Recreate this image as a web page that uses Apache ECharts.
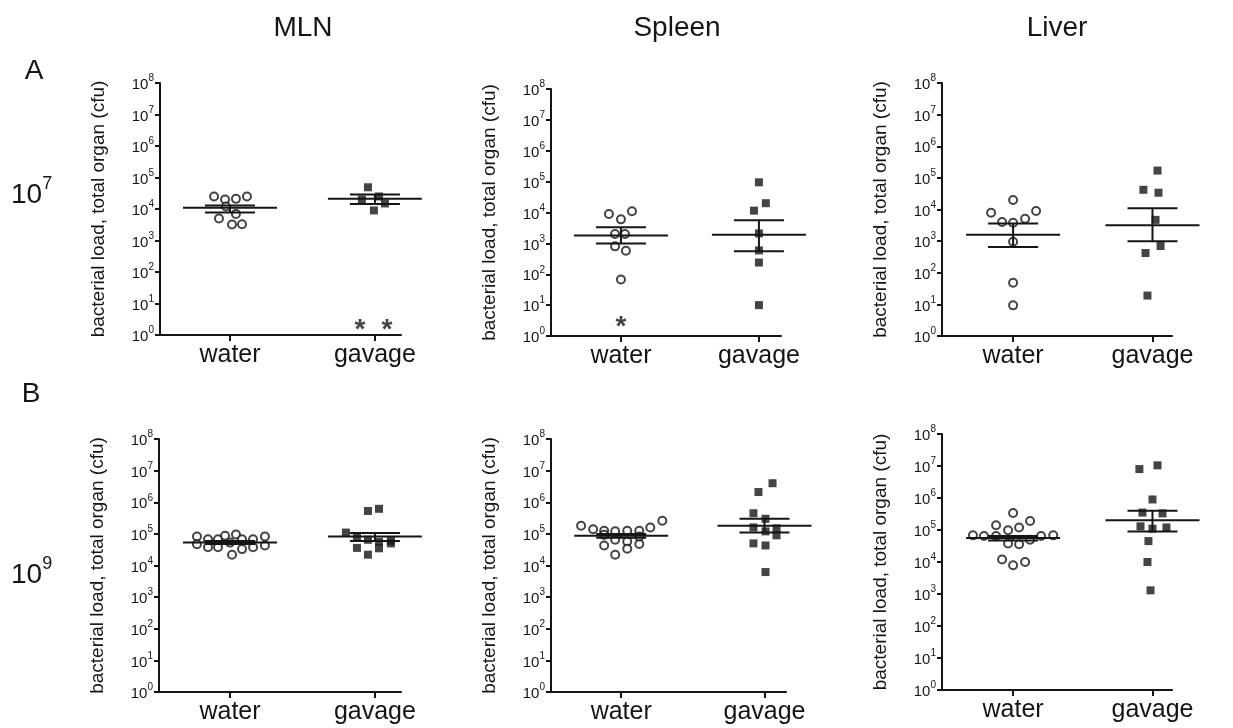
<!DOCTYPE html>
<html>
<head>
<meta charset="utf-8">
<script src="https://cdn.jsdelivr.net/npm/echarts@6/dist/echarts.min.js"></script>
<style>
html,body{margin:0;padding:0;background:#fff;}
#chart{width:1233px;height:728px;}
</style>
</head>
<body>
<div id="chart"></div>
<script>
// ---------- categories / labels ----------
const categories = ['water', 'gavage'];
const organs = ['MLN', 'Spleen', 'Liver'];
const rowLetters = ['A', 'B'];
const doseExponents = ['7', '9'];
const yTickExponents = [0, 1, 2, 3, 4, 5, 6, 7, 8];
const yTitle = 'bacterial load, total organ (cfu)';

// ---------- A: 10^7 dose ----------
// MLN
const mlnA_water   = [25000, 20000, 21000, 25000, 12000, 7000, 5000, 3200, 3300];
const mlnA_waterDx = [-0.11, -0.034, 0.041, 0.117, -0.028, 0.041, -0.076, 0.014, 0.083];
const mlnA_gavage   = [49000, 20000, 25000, 15000, 9000];
const mlnA_gavageDx = [-0.048, -0.09, 0.028, 0.069, -0.007];
const mlnA_mean  = [11000, 21000];
const mlnA_semLo = [7800, 14400];
const mlnA_semHi = [12800, 29000];
const mlnA_stars   = [[2, 2.6], [2, 2.6]];
const mlnA_starsDx = [-0.103, 0.083];
// Spleen
const splA_water   = [9000, 6000, 11000, 2000, 2000, 800, 580, 68];
const splA_waterDx = [-0.087, 0, 0.08, -0.043, 0.029, -0.043, 0.036, 0];
const splA_gavage   = [95000, 20000, 11500, 2100, 590, 240, 10];
const splA_gavageDx = [0, 0.05, -0.036, 0, 0, 0, 0];
const splA_mean  = [1800, 1900];
const splA_semLo = [1000, 560];
const splA_semHi = [3300, 5600];
const splA_stars   = [[1, 3.5]];
const splA_starsDx = [0];
// Liver
const livA_water   = [20000, 7900, 9000, 4000, 3800, 5100, 950, 48, 9.3];
const livA_waterDx = [0, -0.158, 0.165, -0.079, 0, 0.086, 0, 0, 0];
const livA_gavage   = [170000, 42000, 34000, 4700, 700, 420, 19];
const livA_gavageDx = [0.036, -0.065, 0.043, 0.022, 0.058, -0.05, -0.036];
const livA_mean  = [1600, 3200];
const livA_semLo = [650, 1000];
const livA_semHi = [3600, 11000];

// ---------- B: 10^9 dose ----------
// MLN
const mlnB_water   = [83000, 47000, 68000, 38000, 68000, 38000, 87000, 53000, 95000, 22000, 68000, 33000, 68000, 38000, 83000, 43000];
const mlnB_waterDx = [-0.228, -0.228, -0.152, -0.152, -0.083, -0.083, -0.034, 0, 0.041, 0.014, 0.083, 0.083, 0.159, 0.159, 0.241, 0.241];
const mlnB_gavage   = [110000, 80000, 36000, 530000, 65000, 22000, 620000, 56000, 35000, 60000, 50000, 90000];
const mlnB_gavageDx = [-0.2, -0.124, -0.124, -0.048, -0.048, -0.048, 0.028, 0.028, 0.028, 0.11, 0.11, 0.193];
const mlnB_mean  = [53000, 83000];
const mlnB_semLo = [48000, 60000];
const mlnB_semHi = [59000, 107000];
// Spleen
const splB_water   = [180000, 140000, 125000, 120000, 125000, 125000, 160000, 260000, 93000, 65000, 57000, 48000, 43000, 34000, 22000, 83000];
const splB_waterDx = [-0.28, -0.196, -0.119, -0.042, 0.042, 0.126, 0.203, 0.287, -0.119, -0.042, 0.042, 0.126, -0.119, 0.042, -0.042, 0.126];
const splB_gavage   = [4000000, 2100000, 450000, 300000, 160000, 120000, 150000, 90000, 50000, 43000, 6200];
const splB_gavageDx = [0.056, -0.042, -0.077, 0.007, -0.077, 0.007, 0.084, 0.084, -0.077, 0.007, 0.007];
const splB_mean  = [87000, 180000];
const splB_semLo = [75000, 110000];
const splB_semHi = [100000, 300000];
// Liver
const livB_water   = [340000, 140000, 98000, 120000, 190000, 68000, 65000, 65000, 65000, 68000, 38000, 36000, 50000, 12000, 7900, 10000];
const livB_waterDx = [0, -0.122, -0.036, 0.043, 0.122, -0.288, -0.209, -0.122, 0.201, 0.288, -0.036, 0.043, 0.122, -0.079, 0, 0.086];
const livB_gavage   = [8000000, 10500000, 900000, 350000, 330000, 130000, 110000, 120000, 45000, 10000, 1300];
const livB_gavageDx = [-0.094, 0.036, 0, -0.072, 0.072, -0.086, 0, 0.1, -0.029, -0.036, -0.014];
const livB_mean  = [56000, 200000];
const livB_semLo = [47000, 90000];
const livB_semHi = [65000, 400000];

// ---------- panel layout (positions / styles only) ----------
const panels = [
  {left:160, top:83,  width:241, height:252, min:0.517, max:2.18, w:mlnA_water, wdx:mlnA_waterDx, g:mlnA_gavage, gdx:mlnA_gavageDx, mean:mlnA_mean, lo:mlnA_semLo, hi:mlnA_semHi, stars:mlnA_stars, sdx:mlnA_starsDx},
  {left:551, top:89,  width:230, height:247, min:0.493, max:2.16, w:splA_water, wdx:splA_waterDx, g:splA_gavage, gdx:splA_gavageDx, mean:splA_mean, lo:splA_semLo, hi:splA_semHi, stars:splA_stars, sdx:splA_starsDx},
  {left:942, top:83,  width:230, height:253, min:0.49,  max:2.14, w:livA_water, wdx:livA_waterDx, g:livA_gavage, gdx:livA_gavageDx, mean:livA_mean, lo:livA_semLo, hi:livA_semHi},
  {left:159, top:439, width:242, height:253, min:0.51,  max:2.18, w:mlnB_water, wdx:mlnB_waterDx, g:mlnB_gavage, gdx:mlnB_gavageDx, mean:mlnB_mean, lo:mlnB_semLo, hi:mlnB_semHi},
  {left:551, top:439, width:235, height:253, min:0.51,  max:2.15, w:splB_water, wdx:splB_waterDx, g:splB_gavage, gdx:splB_gavageDx, mean:splB_mean, lo:splB_semLo, hi:splB_semHi},
  {left:942, top:434, width:230, height:256, min:0.49,  max:2.14, w:livB_water, wdx:livB_waterDx, g:livB_gavage, gdx:livB_gavageDx, mean:livB_mean, lo:livB_semLo, hi:livB_semHi}
];

const FONT = '"Liberation Sans", Arial, Helvetica, sans-serif';
const INK = '#151515';

const grid = [], xAxis = [], yAxis = [], series = [];

function statsRenderer(params, api) {
  const x = api.value(0), m = api.value(1), lo = api.value(2), hi = api.value(3);
  const pm = api.coord([x, m]), pl = api.coord([x, lo]), ph = api.coord([x, hi]);
  const st = {stroke: INK, lineWidth: 2};
  return {type: 'group', children: [
    {type: 'line', shape: {x1: pm[0] - 47, y1: pm[1], x2: pm[0] + 47, y2: pm[1]}, style: st},
    {type: 'line', shape: {x1: ph[0] - 25, y1: ph[1], x2: ph[0] + 25, y2: ph[1]}, style: st},
    {type: 'line', shape: {x1: pl[0] - 25, y1: pl[1], x2: pl[0] + 25, y2: pl[1]}, style: st},
    {type: 'line', shape: {x1: ph[0], y1: ph[1], x2: pl[0], y2: pl[1]}, style: st}
  ]};
}

panels.forEach((p, i) => {
  grid.push({left: p.left, top: p.top, width: p.width, height: p.height, containLabel: false});
  xAxis.push({
    gridIndex: i, type: 'value', min: p.min, max: p.max,
    axisLine: {show: true, lineStyle: {color: INK, width: 2}},
    axisTick: {show: true, customValues: [1, 2], length: 6, lineStyle: {color: INK, width: 2}},
    axisLabel: {show: true, customValues: [1, 2], margin: 8, color: INK, fontSize: 25, fontFamily: FONT,
      formatter: v => categories[Math.round(v) - 1]},
    splitLine: {show: false}
  });
  yAxis.push({
    gridIndex: i, type: 'log', logBase: 10, min: 1, max: 1e8,
    name: yTitle, nameLocation: 'middle', nameGap: 52, nameRotate: 90,
    nameTextStyle: {fontSize: 19, color: INK, fontFamily: FONT},
    axisLine: {show: true, lineStyle: {color: INK, width: 2}},
    axisTick: {show: true, length: 5, lineStyle: {color: INK, width: 2}},
    minorTick: {show: false},
    axisLabel: {show: true, margin: 6, color: INK, fontFamily: FONT,
      formatter: v => '{b|10}{s|' + yTickExponents[Math.round(Math.log10(v))] + '}',
      rich: {
        b: {fontSize: 15, lineHeight: 19, verticalAlign: 'bottom', color: INK, fontFamily: FONT},
        s: {fontSize: 10, verticalAlign: 'top', color: INK, fontFamily: FONT}
      }},
    splitLine: {show: false}
  });
  series.push({
    type: 'scatter', xAxisIndex: i, yAxisIndex: i, symbol: 'circle', symbolSize: 8,
    itemStyle: {color: '#fff', borderColor: INK, borderWidth: 2},
    data: p.w.map((v, k) => [1 + p.wdx[k], v]), z: 3
  });
  series.push({
    type: 'scatter', xAxisIndex: i, yAxisIndex: i, symbol: 'rect', symbolSize: 8,
    itemStyle: {color: INK},
    data: p.g.map((v, k) => [2 + p.gdx[k], v]), z: 3
  });
  series.push({
    type: 'custom', xAxisIndex: i, yAxisIndex: i, renderItem: statsRenderer, z: 4,
    data: categories.map((c, k) => [k + 1, p.mean[k], p.lo[k], p.hi[k]])
  });
  if (p.stars) {
    series.push({
      type: 'scatter', xAxisIndex: i, yAxisIndex: i, symbol: 'circle', symbolSize: 1,
      itemStyle: {color: 'rgba(0,0,0,0)'},
      label: {show: true, position: 'inside', formatter: '*', fontSize: 28, fontWeight: 'bold',
        color: INK, fontFamily: FONT, offset: [0, 8]},
      data: p.stars.map((s, k) => [s[0] + p.sdx[k], s[1]]), z: 5
    });
  }
});

const graphic = [];
const titleX = [303, 677, 1057];
organs.forEach((o, k) => graphic.push({
  type: 'text', x: titleX[k], y: 28,
  style: {text: o, fontSize: 28, fontFamily: FONT, fill: INK, align: 'center', verticalAlign: 'middle'}
}));
graphic.push({type: 'text', x: 34, y: 71, style: {text: rowLetters[0], fontSize: 28, fontFamily: FONT, fill: INK, align: 'center', verticalAlign: 'middle'}});
graphic.push({type: 'text', x: 31, y: 394, style: {text: rowLetters[1], fontSize: 28, fontFamily: FONT, fill: INK, align: 'center', verticalAlign: 'middle'}});
const doseY = [192, 572];
doseExponents.forEach((e, k) => graphic.push({
  type: 'text', x: 11, y: doseY[k],
  style: {text: '{b|10}{s|' + e + '}', fill: INK, align: 'left', verticalAlign: 'middle',
    rich: {
      b: {fontSize: 28, lineHeight: 34, verticalAlign: 'bottom', fontFamily: FONT, fill: INK},
      s: {fontSize: 18, verticalAlign: 'top', fontFamily: FONT, fill: INK}
    }}
}));

const chart = echarts.init(document.getElementById('chart'), null, {renderer: 'canvas'});
chart.setOption({
  backgroundColor: '#ffffff',
  animation: false,
  grid, xAxis, yAxis, series, graphic
});
</script>
</body>
</html>
